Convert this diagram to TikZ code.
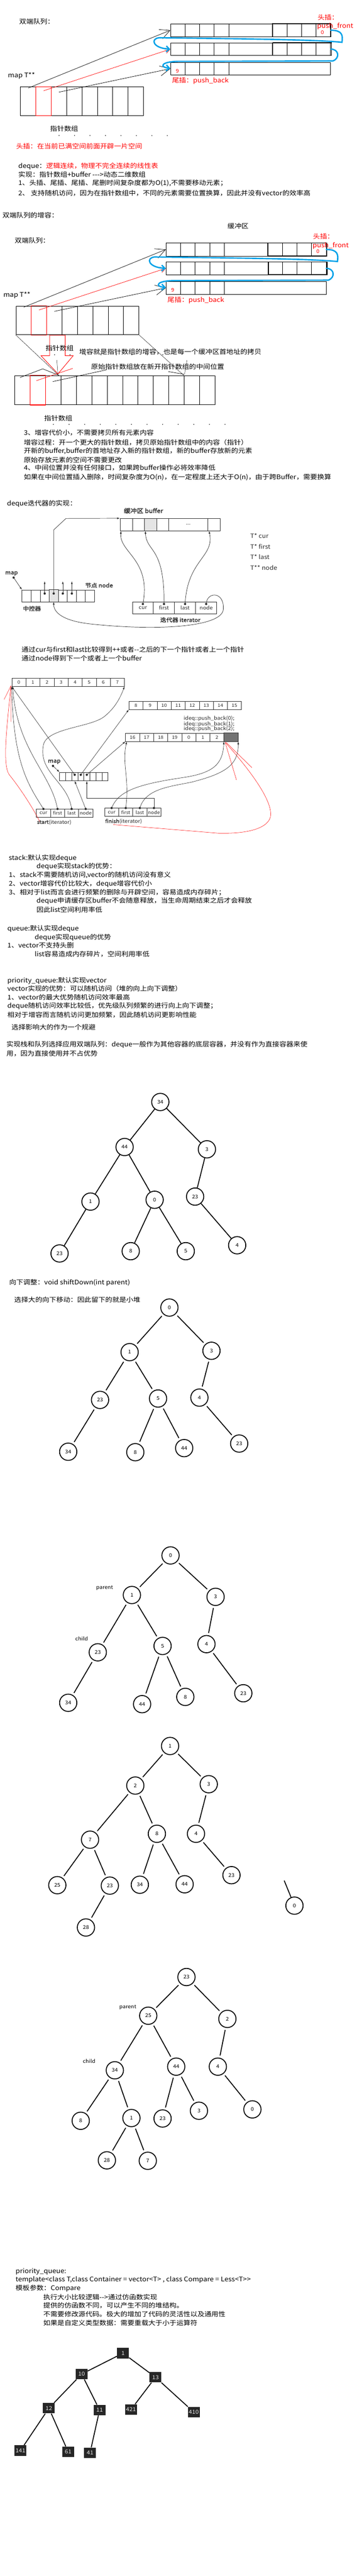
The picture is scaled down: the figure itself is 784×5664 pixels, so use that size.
\documentclass[tikz,border=0pt]{standalone}
\usepackage{fontspec}
\usetikzlibrary{arrows.meta}
\newfontfamily\cjk[FakeStretch=1.1,AutoFakeBold=2]{Noto Sans CJK SC}
\definecolor{pathblue}{RGB}{0,162,232}
\definecolor{scan}{RGB}{45,45,45}
\definecolor{boxgray}{RGB}{38,38,38}
\newcommand\hy{-\kern0pt}
\tikzset{
  txt/.style={anchor=west,inner sep=0pt,font=\cjk\fontsize{14}{16}\selectfont},
  redtxt/.style={txt,text=red},
  numtxt/.style={inner sep=0pt,font=\cjk\fontsize{11}{13}\selectfont},
  ptr/.style={-{Straight Barb[length=22pt,width=22pt]}},
  bluepath/.style={draw=pathblue,line width=3pt,line cap=round,-{Straight Barb[length=7pt,width=13pt]}},
  sarr/.style={-{Latex[length=6pt,width=4pt]}},
  heap/.style={circle,draw,line width=2pt,minimum size=38pt,inner sep=0pt,font=\cjk\fontsize{11}{13}\selectfont},
  heapedge/.style={line width=2pt},
  gapedge/.style={heapedge,shorten >=5pt,shorten <=5pt},
  darkbox/.style={fill=boxgray,text=black!10,minimum width=26pt,minimum height=23pt,inner sep=0pt,font=\cjk\fontsize{12}{14}\selectfont},
}
\begin{document}
\begin{tikzpicture}[x=1pt,y=-1pt,line width=0.8pt]
\fill[white] (0,0) rectangle (784,5664);
\useasboundingbox (0,0) rectangle (784,5664);

% deque: buffers and pointer array, drawn twice
\foreach \dx/\dy/\blk in {0/0/a,-10/482/b}{
\begin{scope}[shift={(\dx,\dy)}]
\node[txt] (title\blk) at (42,47) {双端队列：};
\foreach \rw/\yy/\hh in {1/66.5/29,2/108/28,3/151/28}
  \node[draw,inner sep=0pt,minimum width=352pt,minimum height=\hh pt] (row\rw\blk) at (551,\yy) {};
\foreach \xx in {407,439,471,503,599,631,663,695}
  \draw (\xx,52) -- (\xx,81) (\xx,94) -- (\xx,122);
\foreach \xx in {407,439,471,503}
  \draw (\xx,137) -- (\xx,165);
\draw[line width=1.8pt] (599,52) rectangle (728,81) (600,94) rectangle (729,122);
\node[redtxt] (front\blk) at (698,38) {头插：};
\node[redtxt] (pfront\blk) at (697,58) {push\_front};
\node[numtxt,text=red] (zero\blk) at (709,71) {0};
\node[numtxt,text=red] (nine\blk) at (390,156) {9};
\node[redtxt] (back\blk) at (378,178) {尾插：push\_back};
% pointer array
\node[txt] (maplbl\blk) at (17,167) {map T**};
\foreach \kk in {1,...,8}
  \node[draw,inner sep=0pt,minimum width=33.8pt,minimum height=63pt] (m\kk\blk) at ({45+33.8*(\kk-0.5)},222.5) {};
\draw[red,line width=1.2pt] (m2\blk.south west) rectangle (m2\blk.north east);
\node[txt] (arrlbl\blk) at (110,283) {指针数组};
\foreach \kk in {0,...,7}
  \fill (130+34*\kk,298) circle (1);
\draw[ptr] ([yshift=-3pt]m1\blk.north) -- (row1\blk.west);
\draw[red,-{Straight Barb[length=10pt,width=12pt]}] ([yshift=-9pt]m2\blk.north) -- (row2\blk.west);
\draw[ptr] ([yshift=-12pt]m3\blk.north) -- (row3\blk.west);
% blue order of the elements
\draw[bluepath] (row1\blk.east) .. controls +(26,0) and (754,78) .. (752,93)
  .. controls (700,88) and (600,86) .. (350,83) .. controls (330,85) and (336,106) .. (row2\blk.west);
\draw[bluepath] (row2\blk.east) .. controls +(18,0) and (748,128) .. (732,134)
  -- (400,135) .. controls (352,134) and (350,148) .. ([yshift=1pt]row3\blk.west);
\end{scope}
}

% notes under the first picture
\node[redtxt] (headins) at (35,321) {头插：在当前已满空间前面开辟一片空间};
\node[txt] (dq1) at (40,366) {deque：\textcolor{red}{逻辑连续，物理不完全连续的线性表}};
\node[txt] (dq2) at (40,384) {实现：指针数组+buffer \hy\hy\hy>动态二维数组};
\node[txt] (dq3) at (40,403) {1、头插、尾插、尾插、尾删时间复杂度都为O(1),不需要移动元素；};
\node[txt] (dq4) at (40,425) {2、 支持随机访问，因为在指针数组中，不同的元素需要位置换算，因此并没有vector的效率高};

% growth of the pointer array
\node[txt] (grow) at (5,473) {双端队列的增容：};
\node[txt] (bufzone) at (500,497) {缓冲区};
\foreach \kk in {1,...,13}
  \node[draw,inner sep=0pt,minimum width=33.85pt,minimum height=64pt] (na\kk) at ({32.5+33.85*(\kk-0.5)},858) {};
\draw[red,line width=1.2pt] (na2.south west) rectangle (na2.north east);
\draw[red,line width=1pt] (109,737) -- (143.5,737) -- (143.5,782) -- (161,782) -- (127.5,822) -- (90,782) -- (109,782) -- cycle;
\draw[line width=0.5pt] (m1b.south west) -- ([xshift=-5pt]na3.north east);
\draw[line width=0.5pt] (m8b.south east) -- (na12.north west);
\draw[line width=0.5pt] (125,792) -- (127.5,825) (411,792) -- (406,822);
\draw (44,830) -- (94,811) -- (129,825);
\draw[red] (80,837) -- (160,810);
\draw (116,839) -- (235,813);
\draw (370,817) -- (405,823);
\node[txt] (growa) at (174,774) {增容就是指针数组的增容，也是每一个缓冲区首地址的拷贝};
\node[txt] (growb) at (200,806) {原始指针数组放在新开指针数组的中间位置};
\node[txt] (arrlblc) at (97,920) {指针数组};
\foreach \kk in {0,...,11}
  \fill (117.5+34.3*\kk,933) circle (1);

\node[txt] (gr1) at (52,952) {3、增容代价小，不需要拷贝所有元素内容};
\node[txt] (gr2) at (52,973) {增容过程：开一个更大的指针数组，拷贝原始指针数组中的内容（指针）};
\node[txt] (gr3) at (52,992) {开新的buffer,buffer的首地址存入新的指针数组，新的buffer存放新的元素};
\node[txt] (gr4) at (52,1011) {原始存放元素的空间不需要更改};
\node[txt] (gr5) at (52,1029) {4、中间位置并没有任何接口，如果跨buffer操作必将效率降低};
\node[txt] (gr6) at (52,1049) {如果在中间位置插入删除，时间复杂度为O(n)，在一定程度上还大于O(n)，由于跨Buffer，需要换算};

% iterator of deque
\node[txt] (itertitle) at (15,1108) {deque迭代器的实现：};
\begin{scope}[color=scan]
\node[txt,font=\cjk\bfseries\fontsize{13}{15}\selectfont] (buflbl) at (272,1123) {缓冲区 buffer};
\foreach \nn/\xa/\xb/\cc in {1/264/291.5/white,2/291.5/318/white,3/318/344.5/black!10,4/344.5/371/white,5/371/457/white,6/457/484/white}
  \node[draw,fill=\cc,inner sep=0pt,minimum height=27pt,minimum width={\xb-\xa}] (bc\nn) at ({(\xa+\xb)/2},1153.5) {};
\node[numtxt] (bcdots) at (bc5) {...};
\node[txt,font=\cjk\fontsize{13}{15}\selectfont] (tcur) at (550,1178) {T* cur};
\node[txt,font=\cjk\fontsize{13}{15}\selectfont] (tfirst) at (550,1202) {T* first};
\node[txt,font=\cjk\fontsize{13}{15}\selectfont] (tlast) at (550,1225) {T* last};
\node[txt,font=\cjk\fontsize{13}{15}\selectfont] (tnode) at (550,1248) {T** node};
\node[txt,font=\cjk\bfseries\fontsize{12}{14}\selectfont] (itmap) at (11,1261) {map};
\foreach \nn in {1,...,8}
  \node[draw,inner sep=0pt,minimum width=19.9pt,minimum height=26pt] (nc\nn) at ({48.5+19.9*(\nn-0.5)},1310) {};
\fill[black!10] (nc4.south west) rectangle (nc4.north east);
\draw (nc4.south west) rectangle (nc4.north east);
\coordinate (mapdot) at (30,1270);
\fill (mapdot) circle (2.5);
\draw[sarr] (mapdot) -- (nc1.north west);
\foreach \nn in {3,5,6}{
  \fill ([yshift=5pt]nc\nn.center) circle (2.5);
  \draw[sarr] ([yshift=5pt]nc\nn.center) -- ++(0,-27);
}
\fill ([yshift=5pt]nc4.center) circle (2.5);
\draw[sarr] ([yshift=5pt]nc4.center) -- ++(0,-140) -- (145,1140) -- (bc1.north west);
\node[txt,font=\cjk\bfseries\fontsize{12}{14}\selectfont] (nodelbl) at (187,1287) {节点 node};
\node[txt,font=\cjk\bfseries\fontsize{12}{14}\selectfont] (ctrl) at (50,1338) {中控器};
\foreach \nn/\lab in {1/cur,2/first,3/last,4/node}{
  \node[draw,inner sep=0pt,minimum width=46.4pt,minimum height=26pt,font=\cjk\fontsize{11}{13}\selectfont] (ic\nn) at ({291+46.4*(\nn-0.5)},1336) {\lab};
  \fill ([yshift=8pt]ic\nn.center) circle (2.5);
}
\node[txt,font=\cjk\bfseries\fontsize{12}{14}\selectfont] (itlbl) at (352,1363) {迭代器 iterator};
\draw[sarr] ([yshift=8pt]ic1.center) .. controls (333,1230) and (262,1215) .. ([xshift=2.5pt]bc1.south west);
\draw[sarr] ([yshift=8pt]ic2.center) .. controls (362,1200) and (322,1215) .. ([xshift=2pt]bc3.south west);
\draw[sarr] ([yshift=8pt]ic3.center) .. controls (412,1230) and (472,1225) .. ([xshift=3pt]bc6.south west);
\draw[sarr] ([yshift=8pt]ic4.center) .. controls (455,1300) and (494,1300) .. (491,1340)
  .. controls (488,1378) and (350,1388) .. (200,1372) .. controls (135,1365) and (118,1345) .. (nc4.south);
\end{scope}

\node[txt] (via1) at (47,1428) {通过cur与first和last比较得到++或者\hy\hy{}之后的下一个指针或者上一个指针};
\node[txt] (via2) at (47,1447) {通过node得到下一个或者上一个buffer};

% start and finish iterators
\begin{scope}[color=scan,line width=0.7pt]
\foreach \nn/\lab in {1/0,2/1,3/2,4/3,5/4,6/5,7/6,8/7}
  \node[draw,inner sep=0pt,minimum width=30.94pt,minimum height=18pt,font=\cjk\fontsize{10}{12}\selectfont] (a\nn) at ({26+30.94*(\nn-0.5)},1500) {\lab};
\foreach \nn/\lab in {1/8,2/9,3/10,4/11,5/12,6/13,7/14,8/15}
  \node[draw,inner sep=0pt,minimum width=30.94pt,minimum height=18pt,font=\cjk\fontsize{10}{12}\selectfont] (b\nn) at ({283.5+30.94*(\nn-0.5)},1551) {\lab};
\foreach \nn/\lab in {1/16,2/17,3/18,4/19,5/0,6/1,7/2,8/{}}
  \node[draw,inner sep=0pt,minimum width=30.94pt,minimum height=18pt,font=\cjk\fontsize{10}{12}\selectfont] (c\nn) at ({276+30.94*(\nn-0.5)},1621) {\lab};
\fill[black!55] (c8.south west) rectangle (c8.north east);
\draw (c8.south west) rectangle (c8.north east);
\node[numtxt,anchor=west] (pb0) at (403.5,1580) {ideq::push\_back(0);};
\node[numtxt,anchor=west] (pb1) at (403.5,1592) {ideq::push\_back(1);};
\node[numtxt,anchor=west] (pb2) at (403.5,1603) {ideq::push\_back(2);};
\node[txt,font=\cjk\bfseries\fontsize{12}{14}\selectfont] (smap) at (105,1675) {map};
\coordinate (smapdot) at (116.5,1684);
\fill (smapdot) circle (2.5);
\foreach \nn in {1,...,8}
  \node[draw,inner sep=0pt,minimum width=13.3pt,minimum height=19pt] (mc\nn) at ({131+13.3*(\nn-0.5)},1707.5) {};
\draw[sarr] (smapdot) -- (mc1.north west);
\foreach \nn in {3,4,5}
  \fill ([yshift=4pt]mc\nn.center) circle (2.5);
\draw[sarr] ([yshift=4pt]mc3.center) -- (a1.south west);
\draw[sarr] ([yshift=4pt]mc4.center) -- (b1.south west);
\draw[sarr] ([yshift=4pt]mc5.center) -- (c1.south west);
\foreach \nn/\lab in {1/cur,2/first,3/last,4/node}{
  \node[draw,inner sep=0pt,minimum width=31pt,minimum height=18pt,font=\cjk\fontsize{10}{12}\selectfont] (s\nn) at ({80+31*(\nn-0.5)},1788) {\lab};
  \node[draw,inner sep=0pt,minimum width=31pt,minimum height=18pt,font=\cjk\fontsize{10}{12}\selectfont] (f\nn) at ({230+31*(\nn-0.5)},1786) {\lab};
  \fill (s\nn.north) circle (2.5);
  \fill (f\nn.north) circle (2.5);
}
\node[txt,font=\cjk\fontsize{11}{13}\selectfont] (startlbl) at (81,1808) {\textbf{start}(iterator)};
\node[txt,font=\cjk\fontsize{11}{13}\selectfont] (finishlbl) at (231,1806) {\textbf{finish}(iterator)};
\draw[sarr] (s1.north) .. controls (62,1725) and (30,1680) .. (a1.south west);
\draw[sarr] (s2.north) .. controls (112,1700) and (38,1650) .. ([xshift=2pt]a1.south west);
\draw[sarr] (s3.north) .. controls (150,1720) and (85,1700) .. (95,1640)
  .. controls (100,1600) and (200,1600) .. (230,1575) .. controls (255,1555) and (266,1530) .. (a8.south east);
\draw[sarr] (s4.north) -- (mc3.south);
\draw[sarr] (f1.north) .. controls (260,1740) and (300,1725) .. (400,1710)
  .. controls (470,1700) and (490,1680) .. (c8.south west);
\draw[sarr] (f2.north) .. controls (285,1710) and (268,1680) .. ([xshift=3pt]c1.south west);
\draw[sarr] (f3.north) .. controls (320,1735) and (370,1730) .. (420,1720)
  .. controls (500,1700) and (524,1680) .. (c8.south east);
\draw[sarr] (f4.north) -- ++(0,-22) -| (mc5.south);
\end{scope}
% red marks on the scan
\draw[red,line width=0.6pt] (9,1538) -- (24,1508) -- (24,1587);
\draw[red,line width=0.6pt] (24,1508) .. controls (15,1600) and (5,1680) .. (20,1703) .. controls (50,1740) and (80,1790) .. (87.5,1807);
\draw[red,line width=0.6pt] (249,1813) -- (480,1832) .. controls (560,1834) and (600,1815) .. (595,1785) .. controls (590,1740) and (520,1660) .. (495,1632);
\draw[red,line width=0.6pt] (495,1632) -- (520,1715) (497,1632) -- (554,1688);

% stack, queue, priority_queue
\node[txt] (st1) at (19,1887) {stack:默认实现deque};
\node[txt] (st2) at (80,1905) {deque实现stack的优势：};
\node[txt] (st3) at (19,1924) {1、stack不需要随机访问,vector的随机访问没有意义};
\node[txt] (st4) at (19,1943) {2、vector增容代价比较大，deque增容代价小};
\node[txt] (st5) at (19,1962) {3、相对于list而言会进行频繁的删除与开辟空间，容易造成内存碎片；};
\node[txt] (st6) at (80,1981) {deque申请缓存区buffer不会随意释放，当生命周期结束之后才会释放};
\node[txt] (st7) at (80,2000) {因此list空间利用率低};
\node[txt] (qu1) at (16,2042) {queue:默认实现deque};
\node[txt] (qu2) at (76,2061) {deque实现queue的优势};
\node[txt] (qu3) at (16,2079) {1、vector不支持头删};
\node[txt] (qu4) at (76,2098) {list容易造成内存碎片，空间利用率低};
\node[txt] (pq1) at (16,2156) {priority\_queue:默认实现vector};
\node[txt] (pq2) at (16,2174) {vector实现的优势：可以随机访问（堆的向上向下调整）};
\node[txt] (pq3) at (16,2193) {1、vector的最大优势随机访问效率最高};
\node[txt] (pq4) at (16,2212) {deque随机访问效率比较低，优先级队列频繁的进行向上向下调整；};
\node[txt] (pq5) at (16,2231) {相对于增容而言随机访问更加频繁，因此随机访问更影响性能};
\node[txt] (pq6) at (25,2259) {选择影响大的作为一个规避};
\node[txt] (ad1) at (14,2297) {实现栈和队列选择应用双端队列：deque一般作为其他容器的底层容器，并没有作为直接容器来使};
\node[txt] (ad2) at (14,2316) {用，因为直接使用并不占优势};

% heap trees
\foreach \nn/\xx/\yy/\lab in {a/352.5/2423/34,b/274/2522/44,c/455/2527/3,d/199/2642/1,e/340/2638/0,f/429/2631/23,g/131/2756/23,h/287.5/2751/8,i/408.5/2751/5,j/521.5/2738/4}
  \node[heap] (h1\nn) at (\xx,\yy) {\lab};
\foreach \xa/\xb in {a/b,a/c,b/d,b/e,c/f,d/g,e/h,e/i,f/j}
  \draw[heapedge] (h1\xa) -- (h1\xb);
\node[txt] (sd1) at (20,2820) {向下调整：void shiftDown(int parent)};
\node[txt] (sd2) at (31,2858) {选择大的向下移动：因此留下的就是小堆};

\foreach \nn/\xx/\yy/\lab in {a/372.5/2875/0,b/285/2973/1,c/465/2970/3,d/220/3078/23,e/347.5/3075/5,f/438.5/3073/4,g/150/3192/34,h/297.5/3193/8,i/405/3184/44,j/526/3174/23}
  \node[heap] (h2\nn) at (\xx,\yy) {\lab};
\foreach \xa/\xb in {a/b,a/c,b/d,b/e,c/f,d/g,e/h,e/i,f/j}
  \draw[gapedge] (h2\xa) -- (h2\xb);

\foreach \nn/\xx/\yy/\lab in {a/375/3420/0,b/290/3507/1,c/474/3511/3,d/215/3633/23,e/357.5/3619/5,f/454/3615/4,g/150/3744/34,h/312.5/3747/44,i/407.5/3731/8,j/535/3723/23}
  \node[heap] (h3\nn) at (\xx,\yy) {\lab};
\foreach \xa/\xb in {a/b,a/c,b/d,b/e,c/f,d/g,e/h,e/i,f/j}
  \draw[gapedge] (h3\xa) -- (h3\xb);
\node[numtxt] (par3) at (230,3491) {parent};
\node[numtxt] (chi3) at (179.5,3603) {child};

\foreach \nn/\xx/\yy/\lab in {a/374/3839/1,b/297.5/3926/2,c/459/3923/3,d/198/4045/7,e/345/4032/8,f/431/4032/4,g/126/4145/25,h/241.5/4146/23,i/307.5/4144/34,j/406/4143/44,k/509/4123/23,l/189/4238/28,m/647.5/4190/0}
  \node[heap] (h4\nn) at (\xx,\yy) {\lab};
\foreach \xa/\xb in {a/b,a/c,b/d,b/e,c/f,d/g,d/h,e/i,e/j,f/k,h/l}
  \draw[gapedge] (h4\xa) -- (h4\xb);
\coordinate (h4in) at (625,4135);
\draw[heapedge] (h4in) -- (h4m);

\foreach \nn/\xx/\yy/\lab in {a/410/4347/23,b/326/4432/25,c/500/4439/2,d/252.5/4552/34,e/387.5/4544/44,f/479/4544/4,g/177.5/4663/8,h/289/4657/1,i/357.5/4658/23,j/437.5/4641/3,k/555/4638/0,l/235/4750/28,m/325/4751/7}
  \node[heap] (h5\nn) at (\xx,\yy) {\lab};
\foreach \xa/\xb in {a/b,a/c,b/d,b/e,c/f,d/g,d/h,e/i,e/j,f/k,h/l,h/m}
  \draw[gapedge] (h5\xa) -- (h5\xb);
\node[numtxt] (par5) at (281,4414) {parent};
\node[numtxt] (chi5) at (196,4532) {child};

% priority_queue template
\node[txt] (tp1) at (34,4995) {priority\_queue:};
\node[txt] (tp2) at (34,5013) {template<class T,class Container = vector<T> , class Compare = Less<T>>};
\node[txt] (tp3) at (34,5032) {模板参数：Compare};
\node[txt] (tp4) at (95,5051) {执行大小比较逻辑\hy\hy>通过仿函数实现};
\node[txt] (tp5) at (95,5069) {提供的仿函数不同，可以产生不同的堆结构。};
\node[txt] (tp6) at (95,5088) {不需要修改源代码。极大的增加了代码的灵活性以及通用性};
\node[txt] (tp7) at (95,5108) {如果是自定义类型数据：需要重载大于小于运算符};

% dark box tree
\foreach \nn/\xx/\yy in {1/270.5/5174,10/179.5/5220,13/342/5227,12/107.5/5295,11/219/5299,421/288/5298,410/426/5303.5,141/45/5388,61/150/5391,41/198/5393}
  \node[darkbox] (k\nn) at (\xx,\yy) {\nn};
\foreach \xa/\xb in {1/10,1/13,10/12,10/11,13/421,13/410,12/141,12/61,11/41}
  \draw[heapedge] (k\xa) -- (k\xb);
\end{tikzpicture}
\end{document}
